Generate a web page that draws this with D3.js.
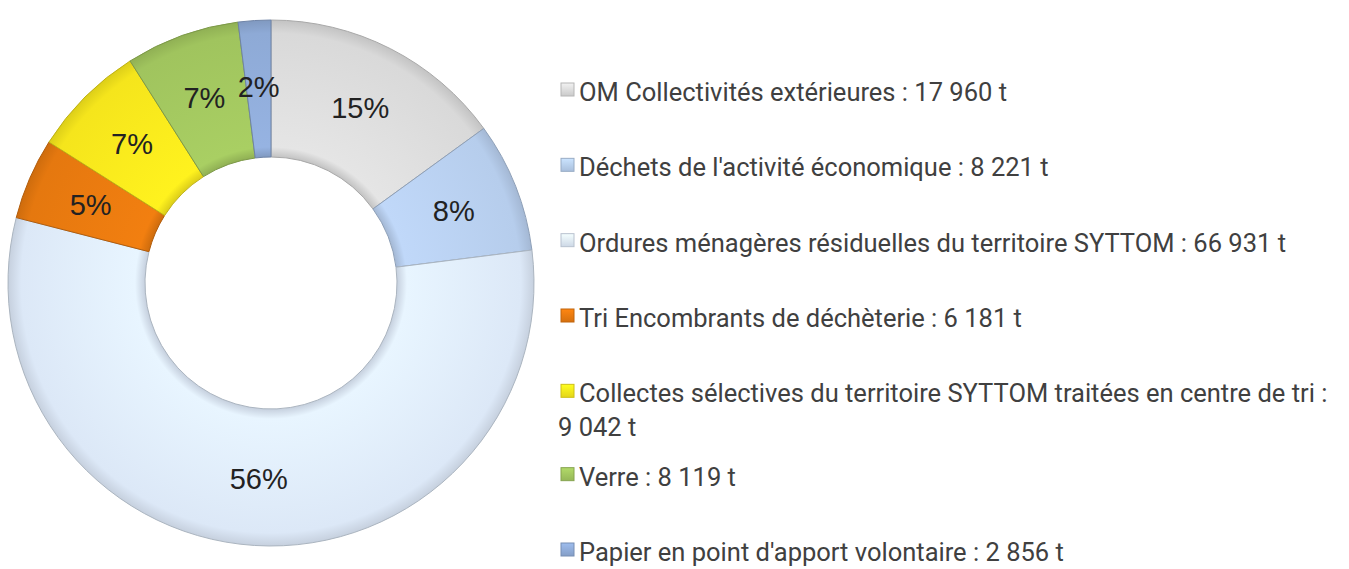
<!DOCTYPE html>
<meta charset="utf-8">
<style>
body { margin: 0; background: #fff; }
.pct { font: 29px "Liberation Sans", Arial, sans-serif; fill: #222; text-anchor: middle; }
.leg { font: 25.5px Roboto, "Liberation Sans", sans-serif; fill: #404040; }
</style>
<svg width="1349" height="569"></svg>
<script src="https://d3js.org/d3.v7.min.js"></script>
<script>

var categories = [
  "OM Collectivités extérieures : 17 960 t",
  "Déchets de l'activité économique : 8 221 t",
  "Ordures ménagères résiduelles du territoire SYTTOM : 66 931 t",
  "Tri Encombrants de déchèterie : 6 181  t",
  "Collectes sélectives du territoire SYTTOM traitées en centre de tri :|9 042 t",
  "Verre : 8 119 t",
  "Papier en point d'apport volontaire : 2 856 t"
];
var percents = [15, 8, 56, 5, 7, 7, 2];
var colors = ["#d9d9d9", "#b6cdec", "#dce8f7", "#e5780f", "#f5e51c", "#a0c45e", "#8eaad6"];

var svg = d3.select("svg"),
    cx = 271, cy = 283,
    outer = 263, inner = 126;

var defs = svg.append("defs");
colors.forEach(function(c, i) {
  var g = defs.append("radialGradient")
      .attr("id", "grad" + i)
      .attr("gradientUnits", "userSpaceOnUse")
      .attr("cx", 0).attr("cy", 0).attr("r", outer);
  g.append("stop").attr("offset", inner / outer).attr("stop-color", d3.color(c).darker(0.3));
  g.append("stop").attr("offset", (inner + 10) / outer).attr("stop-color", d3.color(c).brighter(0.15));
  g.append("stop").attr("offset", 0.95).attr("stop-color", c);
  g.append("stop").attr("offset", 1).attr("stop-color", d3.color(c).darker(0.3));
});
colors.forEach(function(c, i) {
  var g = defs.append("linearGradient")
      .attr("id", "box" + i)
      .attr("x1", 0).attr("y1", 0).attr("x2", 0).attr("y2", 1);
  g.append("stop").attr("offset", 0).attr("stop-color", d3.color(c).brighter(0.3));
  g.append("stop").attr("offset", 1).attr("stop-color", d3.color(c).darker(0.2));
});

var pie = d3.pie().sort(null).value(function(d) { return d; });
var arc = d3.arc().innerRadius(inner).outerRadius(outer);
var mid = (inner + outer) / 2 + 2;
var labelArc = d3.arc().innerRadius(mid).outerRadius(mid);

var g = svg.append("g").attr("transform", "translate(" + cx + "," + cy + ")");
var arcs = pie(percents);

g.selectAll("path")
  .data(arcs)
  .enter().append("path")
    .attr("d", arc)
    .attr("fill", function(d, i) { return "url(#grad" + i + ")"; })
    .attr("stroke", function(d, i) { return d3.color(colors[i]).darker(0.7); })
    .attr("stroke-width", 1);

g.selectAll("text")
  .data(arcs)
  .enter().append("text")
    .attr("class", "pct")
    .attr("transform", function(d) { return "translate(" + labelArc.centroid(d) + ")"; })
    .attr("dy", "0.35em")
    .text(function(d) { return d.data + "%"; });

// legend: rows after the wrapped entry get pushed down a little
var y = d3.scaleLinear().domain([0, 6]).range([101, 553]);
var item = svg.append("g").selectAll("g")
  .data(categories)
  .enter().append("g")
    .attr("transform", function(d, i) { return "translate(561," + (y(i) + (i > 4 ? 8 : 0)) + ")"; });

item.append("rect")
    .attr("x", 0).attr("y", -18)
    .attr("width", 13).attr("height", 13)
    .attr("fill", function(d, i) { return "url(#box" + i + ")"; })
    .attr("stroke", function(d, i) { return d3.color(colors[i]).darker(0.5); })
    .attr("stroke-width", 1);

item.append("text")
    .attr("class", "leg")
    .each(function(d) {
      var t = d3.select(this);
      d.split("|").forEach(function(l, k) {
        t.append("tspan").attr("x", k ? -3 : 18).attr("y", k * 34).text(l);
      });
    });

</script>
